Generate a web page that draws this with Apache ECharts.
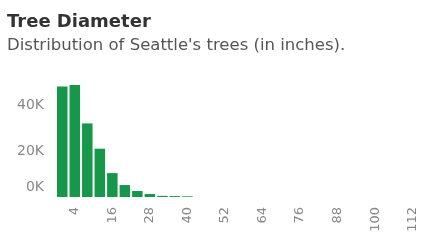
<!DOCTYPE html>
<html>
<head>
<meta charset="utf-8">
<script src="https://cdn.jsdelivr.net/npm/echarts@6/dist/echarts.min.js"></script>
<style>
  html, body { margin: 0; padding: 0; background: #fff; }
  #chart { width: 423px; height: 246px; }
</style>
</head>
<body>
<div id="chart"></div>
<script>
// diameter bins (inches, bin start, width 4)
const bins = ["0","4","8","12","16","20","24","28","32","36","40","44","48","52","56","60","64","68","72","76","80","84","88","92","96","100","104","108","112"];
// tree counts per bin
const counts = [48000, 48700, 32000, 21000, 10400, 5200, 2600, 1300, 500, 400, 300, 0, 0, 0, 0, 0, 0, 0, 0, 0, 0, 0, 0, 0, 0, 0, 0, 0, 0];

let myChart = echarts.init(document.getElementById("chart"));
myChart.setOption({
  animation: false,
  title: {
    text: "Tree Diameter",
    subtext: "Distribution of Seattle's trees (in inches).",
    left: 2,
    top: 8,
    itemGap: 6,
    textStyle: {
      fontFamily: "DejaVu Sans",
      fontSize: 18,
      fontWeight: "bold",
      color: "#333"
    },
    subtextStyle: {
      fontFamily: "DejaVu Sans",
      fontSize: 16.5,
      color: "#555"
    }
  },
  grid: {
    left: 56,
    right: 4,
    top: 82,
    bottom: 49
  },
  xAxis: {
    type: "category",
    data: bins,
    axisLine: { show: false },
    axisTick: { show: false },
    axisLabel: {
      rotate: 90,
      margin: 10,
      fontFamily: "DejaVu Sans",
      fontSize: 13,
      color: "#888",
      interval: function (i) {
        return i % 3 === 1;
      }
    }
  },
  yAxis: {
    type: "value",
    min: 0,
    max: 50000,
    interval: 20000,
    splitLine: { show: false },
    axisLine: { show: false },
    axisTick: { show: false },
    axisLabel: {
      showMaxLabel: false,
      margin: 12,
      fontFamily: "DejaVu Sans",
      fontSize: 14,
      color: "#888",
      formatter: function (v) {
        return v === 0 ? "{z|0K}" : v / 1000 + "K";
      },
      rich: {
        z: { fontFamily: "DejaVu Sans", fontSize: 14, color: "#888", padding: [0, 0, 20, 0] }
      }
    }
  },
  series: [
    {
      type: "bar",
      data: counts,
      barCategoryGap: "16%",
      itemStyle: {
        color: "#17974a"
      }
    }
  ]
});
</script>
</body>
</html>
